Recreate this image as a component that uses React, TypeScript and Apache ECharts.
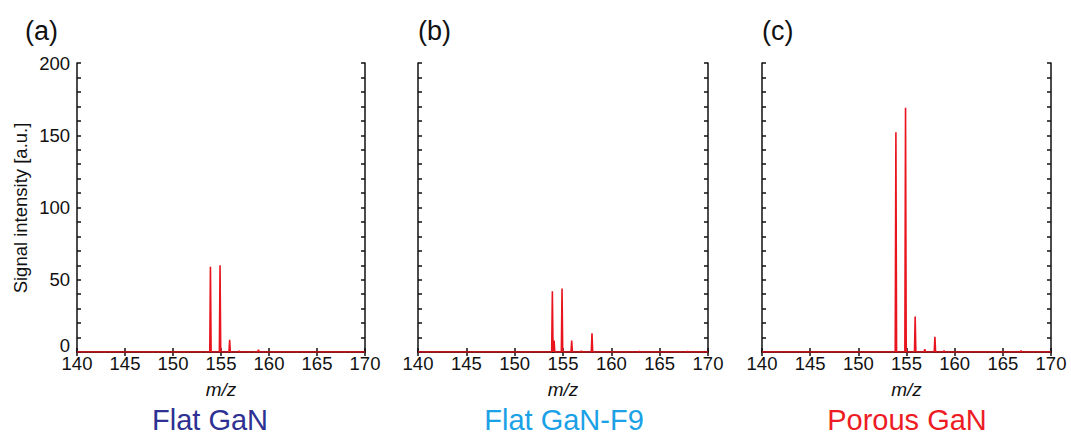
import React, { useEffect, useRef } from "react";
import * as echarts from "echarts";

// ---- data ----
const xMin = 140;
const xMax = 170;
const yMin = 0;
const yMax = 200;

const panelLetters = ["(a)", "(b)", "(c)"];
const panelTitles = ["Flat GaN", "Flat GaN-F9", "Porous GaN"];
const titleColors = ["#2e3192", "#1ba1e6", "#ed1c24"];

// panel (a) Flat GaN
const mzA = [153.9, 154.9, 155.9, 156.9, 158.9];
const intA = [59, 60, 8.5, 0.8, 1.5];
// panel (b) Flat GaN-F9
const mzB = [153.9, 154.08, 154.9, 155.9, 156.9, 158.0, 162.9, 167.9];
const intB = [42, 8, 44, 8, 0.8, 13, 0.6, 0.6];
// panel (c) Porous GaN
const mzC = [153.9, 154.9, 155.9, 156.9, 157.95, 158.9, 166.9];
const intC = [152, 169, 24.5, 2, 10.5, 1, 1];

const spectra = [
  [mzA, intA],
  [mzB, intB],
  [mzC, intC],
];

const FONT = "'Liberation Sans', Arial, sans-serif";

function spikes(mz: number[], h: number[]): number[][] {
  const half = 0.07;
  const out: number[][] = [[xMin, 0]];
  mz.forEach((m, i) => {
    out.push([m - half, 0], [m, h[i]], [m + half, 0]);
  });
  out.push([xMax, 0]);
  return out;
}

const grids = [
  { left: 77, top: 63, width: 288, height: 289 },
  { left: 418, top: 63, width: 290, height: 289 },
  { left: 762, top: 63, width: 289, height: 289 },
];
const titleX = [210, 564, 907];

export default function App() {
  const ref = useRef<HTMLDivElement>(null);
  useEffect(() => {
    document.body.style.margin = "0";
    const chart = echarts.init(ref.current!, null, { renderer: "svg" });
    const xAxis: any[] = [];
    const yAxis: any[] = [];
    const series: any[] = [];
    const graphic: any[] = [];
    grids.forEach((g, i) => {
      const axLine = { show: true, lineStyle: { color: "#111", width: 1.5 } };
      const tick = { show: true, inside: true, length: 4, lineStyle: { color: "#111", width: 1.5 } };
      xAxis.push({
        type: "value",
        gridIndex: i,
        min: xMin,
        max: xMax,
        interval: 5,
        position: "bottom",
        axisLine: axLine,
        axisTick: tick,
        axisLabel: { show: true, color: "#111", fontSize: 18.5, fontFamily: FONT, margin: 2 },
        splitLine: { show: false },
      });
      xAxis.push({
        type: "value",
        gridIndex: i,
        min: xMin,
        max: xMax,
        interval: 5,
        position: "top",
        axisLine: axLine,
        axisTick: tick,
        axisLabel: { show: false },
        splitLine: { show: false },
      });
      yAxis.push({
        type: "value",
        gridIndex: i,
        min: yMin,
        max: yMax,
        interval: 50,
        position: "left",
        axisLine: axLine,
        axisTick: tick,
        minorTick: { show: true, splitNumber: 5, length: 4, lineStyle: { color: "#111", width: 1.5 } },
        axisLabel: {
          show: i === 0,
          color: "#111",
          fontSize: 18.5,
          fontFamily: FONT,
          margin: 7,
          formatter: (v: number) => (v === 0 ? "{z|0}" : String(v)),
          rich: { z: { fontSize: 18.5, fontFamily: FONT, color: "#111", padding: [0, 0, 14, 0] } },
        },
        splitLine: { show: false },
      });
      yAxis.push({
        type: "value",
        gridIndex: i,
        min: yMin,
        max: yMax,
        interval: 50,
        position: "right",
        axisLine: axLine,
        axisTick: tick,
        minorTick: { show: true, splitNumber: 5, length: 4, lineStyle: { color: "#111", width: 1.5 } },
        axisLabel: { show: false },
        splitLine: { show: false },
      });
      series.push({
        type: "line",
        xAxisIndex: i * 2,
        yAxisIndex: i * 2,
        data: spikes(spectra[i][0], spectra[i][1]),
        showSymbol: false,
        symbol: "none",
        lineStyle: { color: "#e8141e", width: 1.6 },
        z: 5,
      });
      const cx = g.left + g.width / 2;
      graphic.push({
        type: "text",
        x: i === 0 ? 25 : g.left,
        y: 31,
        style: { text: panelLetters[i], fontSize: 27, fontFamily: FONT, fill: "#111", verticalAlign: "middle", align: "left" },
      });
      graphic.push({
        type: "text",
        x: cx,
        y: 389,
        style: { text: "m/z", fontSize: 19, fontStyle: "italic", fontFamily: FONT, fill: "#111", align: "center", verticalAlign: "middle" },
      });
      graphic.push({
        type: "text",
        x: titleX[i],
        y: 420,
        style: { text: panelTitles[i], fontSize: 29, fontFamily: FONT, fill: titleColors[i], align: "center", verticalAlign: "middle" },
      });
    });
    graphic.push({
      type: "text",
      x: 20,
      y: 208,
      rotation: Math.PI / 2,
      style: { text: "Signal intensity [a.u.]", fontSize: 18.5, fontFamily: FONT, fill: "#111", align: "center", verticalAlign: "middle" },
    });
    chart.setOption({
      animation: false,
      backgroundColor: "#fff",
      grid: grids.map((g) => ({ ...g, containLabel: false })),
      xAxis,
      yAxis,
      series,
      graphic,
    });
    return () => chart.dispose();
  }, []);
  return <div ref={ref} style={{ width: 1071, height: 437 }} />;
}
